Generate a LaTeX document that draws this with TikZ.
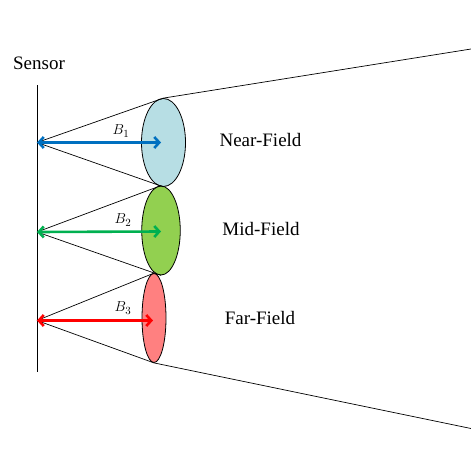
\documentclass[tikz,border=0pt]{standalone}
\usepackage{fontspec}
\setmainfont{Liberation Serif}
\usetikzlibrary{shapes.geometric,arrows.meta}
\definecolor{nearfill}{RGB}{183,222,228}
\definecolor{midfill}{RGB}{146,208,80}
\definecolor{farfill}{RGB}{255,128,128}
\definecolor{nearline}{RGB}{0,112,192}
\definecolor{midline}{RGB}{0,176,80}
\definecolor{farline}{RGB}{255,0,0}
\tikzset{
  field/.style={ellipse,draw=black,line width=0.8pt,inner sep=0pt},
  beam/.style={line width=2.6pt,{Straight Barb[length=5pt,width=11pt]}-{Straight Barb[length=5pt,width=11pt]}},
  cone/.style={line width=0.7pt},
  lbl/.style={font=\fontsize{19}{22}\selectfont}
}
\begin{document}
\begin{tikzpicture}[x=1pt,y=-1pt]
\useasboundingbox (0,0) rectangle (471,452);

% sensor
\node[lbl] (sensor) at (39,63) {Sensor};
\coordinate (stop) at (37,85);
\coordinate (sbot) at (37,372);
\draw[line width=0.9pt] (stop) -- (sbot);
\coordinate (s1) at (37,142.5);
\coordinate (s2) at (37,232);
\coordinate (s3) at (37,320.5);

% fields
\node[field,fill=nearfill,minimum width=44pt,minimum height=88pt] (near) at (163.5,142.5) {};
\node[field,fill=midfill,minimum width=38.5pt,minimum height=89pt] (mid) at (161,230.5) {};
\node[field,fill=farfill,minimum width=24pt,minimum height=89pt] (far) at (154,318) {};

% cones to each field
\draw[cone] (s1) -- (near.north);
\draw[cone] (s1) -- (near.south);
\draw[cone] (s2) -- (mid.north);
\draw[cone] (s2) -- (mid.south);
\draw[cone] (s3) -- (far.north);
\draw[cone] (s3) -- (far.south);

% outer cone
\coordinate (topend) at (471,49);
\coordinate (botend) at (471,428.5);
\draw[cone] (near.north) -- (topend);
\draw[cone] (far.south) -- (botend);

% beams
\draw[beam,nearline] (s1) -- (161,142.5);
\draw[beam,midline] (s2) -- (161,231.5);
\draw[beam,farline] (s3) -- (153,320.5);
\node[font=\fontsize{15}{17}\selectfont] (b1) at (121,131) {$B_1$};
\node[font=\fontsize{15}{17}\selectfont] (b2) at (123,220) {$B_2$};
\node[font=\fontsize{15}{17}\selectfont] (b3) at (123,308) {$B_3$};

% labels
\node[lbl] (nearlbl) at (260.5,140) {Near-Field};
\node[lbl] (midlbl) at (261,229) {Mid-Field};
\node[lbl] (farlbl) at (260,317.5) {Far-Field};
\end{tikzpicture}
\end{document}
